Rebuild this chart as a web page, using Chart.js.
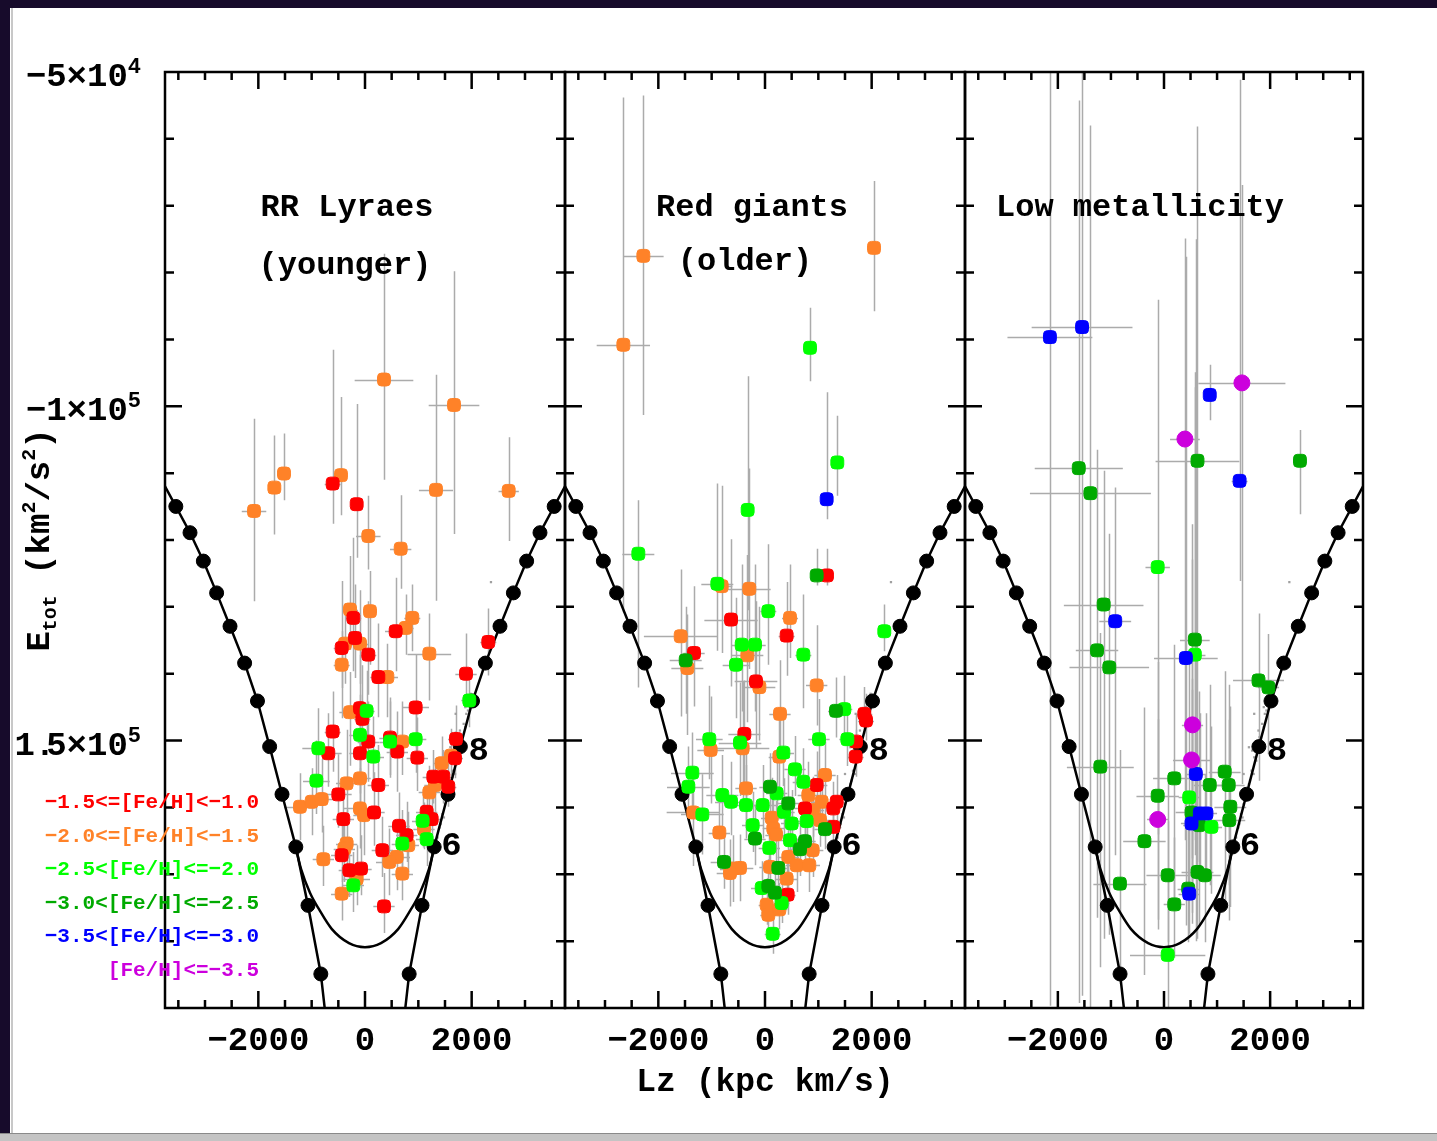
<!DOCTYPE html>
<html>
<head>
<meta charset="utf-8">
<title>Etot vs Lz</title>
<script src="https://cdn.jsdelivr.net/npm/chart.js@4.4.1/dist/chart.umd.min.js"></script>
<style>
html,body{margin:0;padding:0;background:#ffffff;}
#page{position:relative;width:1437px;height:1141px;overflow:hidden;background:#ffffff;}
#page canvas{position:absolute;left:0;top:0;}
#edgeTop{position:absolute;left:0;top:0;width:1437px;height:8px;background:#170b2b;}
#edgeLeft{position:absolute;left:0;top:0;width:10px;height:1141px;background:#170b2b;}
#edgeLine{position:absolute;left:11px;top:8px;width:2px;height:1133px;background:#c8c8c8;}
#edgeBottom{position:absolute;left:0;top:1133px;width:1437px;height:8px;background:#c4c4c4;border-top:1px solid #8a8a8a;}
</style>
</head>
<body>
<div id="page">
<div id="edgeTop"></div><div id="edgeLeft"></div><div id="edgeLine"></div><div id="edgeBottom"></div>
<canvas id="c1" width="1437" height="1141"></canvas>
<canvas id="c2" width="1437" height="1141"></canvas>
<canvas id="c3" width="1437" height="1141"></canvas>
</div>
<script>
// ================= DATA =================
const xTickValues = [-2000, 0, 2000];
const xTickLabels = ['\u22122000', '0', '2000'];
const yTickValues = [-50000, -100000, -150000];
const yTickMantissa = ['\u22125\u00d710', '\u22121\u00d710', '1.5\u00d710'];
const yTickExponent = ['4', '5', '5'];
const panelTitles = [['RR Lyraes', '(younger)'], ['Red giants', '(older)'], ['Low metallicity']];
const legendLabels = ['\u22121.5<=[Fe/H]<\u22121.0', '\u22122.0<=[Fe/H]<\u22121.5', '\u22122.5<[Fe/H]<=\u22122.0',
                      '\u22123.0<[Fe/H]<=\u22122.5', '\u22123.5<[Fe/H]<=\u22123.0', '[Fe/H]<=\u22123.5'];
const legendColors = ['#ff0000', '#ff8228', '#00ff00', '#00aa00', '#0000ff', '#cc00dd'];

// Outer (dotted) boundary curve: Lz, Etot, dot flag
const vCurveLz  = [-3800, -3547, -3281, -3031, -2782, -2531, -2257, -2016, -1788, -1556, -1297, -1069, -828, -614,
                    614, 828, 1069, 1297, 1556, 1788, 2016, 2257, 2531, 2782, 3031, 3281, 3547, 3800];
const vCurveE   = [-111240, -114980, -118910, -123155, -127910, -132905, -138410, -144080, -150905, -158030, -165905, -174650, -184910, -200000,
                   -200000, -184910, -174650, -165905, -158030, -150905, -144080, -138410, -132905, -127910, -123155, -118910, -114980, -111240];
const vCurveDot = [0, 1, 1, 1, 1, 1, 1, 1, 1, 1, 1, 1, 1, 0, 0, 1, 1, 1, 1, 1, 1, 1, 1, 1, 1, 1, 1, 0];
// Inner smooth curve
const innerLz = [-1300, -1200, -1030, -850, -625, -300, 0, 300, 625, 850, 1030, 1200, 1300];
const innerE  = [-165905, -169200, -172800, -175400, -178160, -180300, -180900, -180300, -178160, -175400, -172800, -169200, -165905];
// grey model band
const bandLz = [1980, 1950, 1900, 1930, 1850, 1880, 1800, 1760, 1820, 1700, 1740, 1650, 1690, 1600, 1560, 1620, 1500, 1540, 1450, 1480, 1400, 1360, 1420, 1700, 1600, 2362, 1500, 1880, 1780, 1660];
const bandE  = [-143000, -144500, -146000, -145500, -147500, -148000, -149500, -151000, -150000, -152500, -153000, -154500, -155000, -156500, -157500, -156000, -159500, -159000, -161000, -161500, -163000, -164500, -162500, -146000, -151000, -126300, -155000, -145000, -148500, -151500];
const curveTags = ['8', '6'];
const curveTagLz = [2130, 1620];
const curveTagE = [-151700, -165900];

// points: [Lz, Etot, xErr, eUp, eDown]
const rrRed = [
 [-606,-111560,150,20000,6000],[-156,-114650,120,15000,8000],[-219,-131650,150,12000,8000],[575,-133650,200,8000,6000],
 [-437,-136150,150,10000,6000],[-187,-134650,150,8000,6000],[62,-137150,150,8000,6000],[2312,-135250,150,5000,5000],
 [250,-140500,150,8000,6000],[1894,-140000,200,6000,5000],[-94,-145150,150,8000,6000],[-50,-146750,150,8000,6000],
 [950,-145050,250,8000,6000],[-606,-148650,150,6000,6000],[62,-150150,200,6000,6000],[469,-149550,200,6000,6000],
 [-688,-151900,250,6000,5000],[-94,-151900,200,6000,6000],[606,-151650,200,6000,6000],[981,-152550,200,6000,5000],
 [1706,-149750,150,5000,4000],[1687,-152650,150,4000,3000],[250,-156650,200,6000,5000],[1281,-155400,200,4000,4000],
 [1469,-155400,200,4000,4000],[1562,-156900,150,4000,3000],[-500,-158050,250,6000,5000],[169,-160750,200,6000,5000],
 [-406,-161750,200,6000,5000],[1156,-160650,200,4000,4000],[1250,-161750,200,4000,4000],[637,-162750,200,5000,4000],
 [781,-164150,200,5000,4000],[-437,-167150,200,5000,4000],[325,-166400,200,5000,4000],[-294,-169400,200,5000,4000],
 [-75,-169150,200,5000,4000],[356,-174800,200,5000,4000]
];
const rrOrange = [
 [356,-96000,550,18800,15000],[1669,-99800,475,20000,19300],[-1519,-110060,130,6000,4000],[-450,-110300,100,11700,6000],
 [-2081,-115655,230,13800,13500],[-1700,-112160,120,7800,7000],[62,-119400,230,6000,5000],[669,-121300,200,8000,6000],
 [1331,-112500,320,17200,16600],[2694,-112650,190,8000,7500],[-281,-130400,150,8000,6000],[94,-130650,130,6000,8000],
 [762,-133150,150,5000,4000],[887,-131650,150,5000,5000],[-375,-135500,150,6000,6000],[-94,-135500,150,8000,6000],
 [-437,-138650,150,5000,8000],[1206,-137000,410,6000,7000],[419,-140500,200,5000,6000],[-281,-145750,200,6000,8000],
 [700,-150150,200,6000,5000],[1612,-152250,150,4000,3000],[1437,-153400,150,4000,3000],[-344,-156400,200,8000,6000],
 [-94,-155650,200,6000,6000],[1312,-156650,200,4000,4000],[1206,-157750,200,4000,4000],[-1219,-159900,300,5000,5000],
 [-1000,-159150,300,5000,5000],[-812,-158750,300,6000,5000],[-94,-160150,300,6000,6000],[-19,-161150,200,6000,6000],
 [1106,-163250,200,4000,3000],[812,-165650,200,5000,4000],[-344,-165400,200,5000,5000],[-387,-166150,200,5000,5000],
 [594,-167400,250,5000,5000],[456,-168150,250,5000,5000],[-781,-167750,200,5000,4000],[-156,-170650,250,5000,4000],
 [700,-169900,200,5000,4000],[-437,-172900,200,4000,4000]
];
const rrGreen = [
 [1956,-144000,150,5000,4000],[31,-145550,150,6000,5000],[-94,-149150,200,6000,6000],[469,-150150,200,6000,5000],
 [950,-149800,200,5000,5000],[-875,-151150,300,6000,5000],[156,-152400,200,6000,5000],[-912,-156000,250,6000,5000],
 [1081,-162000,200,4000,4000],[1156,-164750,200,4000,4000],[700,-165400,200,5000,4000],[-219,-171650,200,5000,4000]
];

const rgRed = [
 [1162,-125300,80,4000,1500],[-637,-131900,500,12000,10000],[406,-134300,150,8000,6000],[-1331,-136900,200,10000,8000],
 [-169,-141150,400,12000,10000],[1862,-146000,150,4000,3000],[1894,-147000,150,4000,3000],[-387,-149000,300,8000,8000],
 [1706,-150150,150,4000,3000],[1700,-152400,150,4000,3000],[969,-156650,200,5000,4000],[750,-160150,200,5000,4000],
 [1344,-159150,150,4000,3000],[1281,-160150,150,4000,3000],[1281,-162900,150,4000,3000],[425,-173050,150,4000,3000]
];
const rgOrange = [
 [-2281,-77500,380,24000,23800],[-2656,-90800,500,37000,40000],[2044,-76300,60,10000,9500],[-812,-126900,200,15000,10000],
 [-294,-127300,400,18000,12000],[469,-131650,150,8000,6000],[-1581,-134400,690,10000,12000],[-331,-137250,300,15000,10000],
 [-1456,-139150,300,8000,10000],[-106,-142000,300,12000,8000],[969,-141750,200,9000,6000],[281,-146000,200,8000,6000],
 [-1019,-151400,250,8000,8000],[-419,-151150,500,10000,8000],[269,-152400,200,6000,6000],[1125,-155150,200,5000,4000],
 [-356,-157150,200,8000,6000],[812,-158150,200,5000,4000],[1062,-159150,200,5000,4000],[906,-160400,200,5000,4000],
 [-1344,-160750,500,6000,8000],[125,-161550,200,6000,5000],[1031,-161900,200,5000,4000],[156,-163150,200,5000,4000],
 [206,-164050,200,5000,4000],[-856,-163750,200,5000,4000],[894,-166400,200,4000,4000],[437,-167400,200,4000,4000],
 [594,-168650,200,4000,4000],[831,-168650,200,4000,4000],[-594,-169150,250,5000,5000],[-469,-169050,250,5000,5000],
 [-656,-169800,250,5000,5000],[94,-168900,200,4000,4000],[406,-170650,200,4000,4000],[31,-174550,150,4000,3000],
 [62,-176050,150,4000,3000],[269,-175250,150,4000,3000]
];
const rgGreen = [
 [844,-91250,130,6000,5000],[1356,-108400,80,7000,5000],[-325,-115500,100,20000,15000],[-2375,-122050,300,8000,20000],
 [-894,-126550,300,15000,10000],[62,-130650,150,10000,8000],[2237,-133650,100,4000,3000],[-437,-135650,200,12000,10000],
 [-187,-135650,200,12000,10000],[719,-137150,150,9000,8000],[-544,-138650,250,10000,8000],[1487,-145300,150,5000,4000],
 [-1044,-149800,250,8000,6000],[-469,-150300,400,9000,8000],[1012,-149800,200,6000,5000],[1544,-149800,150,5000,4000],
 [344,-151800,200,6000,5000],[562,-154300,200,5000,4000],[-1362,-154800,400,6000,5000],[-1437,-156900,400,6000,5000],
 [719,-156150,200,5000,4000],[219,-157900,200,5000,4000],[-800,-158150,300,6000,5000],[-637,-159150,300,6000,5000],
 [-356,-159650,250,6000,5000],[-44,-159650,250,6000,5000],[-1175,-161050,400,6000,6000],[356,-160650,200,5000,4000],
 [781,-162050,200,5000,4000],[-231,-162650,200,5000,4000],[500,-162400,200,5000,4000],[469,-164900,200,5000,4000],
 [81,-166050,200,5000,4000],[-62,-172050,200,4000,4000],[312,-174300,150,4000,3000],[144,-178900,150,3000,3000]
];
const rgDkGreen = [
 [969,-125300,80,4000,1500],[-1487,-138000,300,8000,8000],[1331,-145550,150,5000,4000],[94,-156900,200,5000,4000],
 [437,-159400,200,5000,4000],[1125,-163250,200,4000,3000],[-187,-164650,200,5000,4000],[750,-165050,200,4000,4000],
 [656,-166250,200,4000,4000],[-769,-168150,250,5000,4000],[250,-169050,200,4000,4000],[62,-171750,200,4000,3000],
 [187,-172750,200,4000,3000]
];
const rgBlue = [[1156,-113900,80,16000,3000]];

const lmDkGreen = [
 [631,-108150,790,50000,60000],[2562,-108150,80,4600,8000],[-1606,-109250,830,55000,80000],[-1387,-113000,1140,55000,80000],
 [-1137,-129650,750,20000,50000],[581,-134900,280,40000,30000],[-1262,-136500,400,30000,40000],[-1031,-139050,750,20000,40000],
 [1781,-141000,480,10000,15000],[1968,-142050,200,8000,10000],[-1200,-153900,630,20000,30000],[1144,-154650,300,15000,20000],
 [194,-155650,400,20000,20000],[862,-156650,300,15000,15000],[1219,-156650,300,15000,15000],[-119,-158250,400,20000,20000],
 [1250,-159900,300,15000,15000],[519,-160750,300,20000,15000],[662,-162650,300,20000,15000],[1231,-161900,300,15000,15000],
 [-369,-165050,400,20000,20000],[69,-170150,400,15000,10000],[631,-169650,300,15000,10000],[769,-170150,300,15000,10000],
 [-831,-171400,500,20000,15000],[456,-172150,200,10000,8000],[194,-174500,200,10000,8000]
];
const lmGreen = [
 [-119,-124050,230,40000,40000],[581,-137150,200,40000,30000],[475,-158500,200,20000,15000],[894,-162900,200,15000,10000],
 [69,-182050,710,20000,10000]
];
const lmBlue = [
 [-2150,-89650,800,40000,100000],[-1544,-88150,950,40000,100000],[862,-98300,100,4500,3800],[1425,-111150,150,60000,15000],
 [-919,-132150,300,20000,35000],[412,-137650,600,60000,40000],[600,-155000,200,80000,25000],[675,-160900,200,15000,10000],
 [800,-160900,200,15000,10000],[519,-162400,200,20000,15000],[475,-172900,200,10000,6000]
];
const lmMagenta = [
 [1468,-96500,820,29600,60000],[394,-104900,280,30000,60000],[537,-147650,200,30000,20000],[519,-152900,350,30000,20000],
 [-119,-161800,200,15000,15000]
];

// ================= RENDERING =================
const FONT = '"Liberation Mono", "DejaVu Sans Mono", monospace';
const W = 1437, H = 1141, PLOT_TOP = 72, PLOT_BOTTOM = 1008;
const COL = {red:'#ff0000', orange:'#ff8228', green:'#00ff00', dkgreen:'#00aa00', blue:'#0000ff', magenta:'#cc00dd'};

function toPts(arr) { return arr.map(p => ({x: p[0], y: p[1], ex: p[2], eu: p[3], ed: p[4]})); }
function pointSet(arr, color, style, r) {
  return {data: toPts(arr), showLine: false, pointStyle: style || 'rectRounded', pointRadius: r || 7.5,
          pointBackgroundColor: color, pointBorderColor: color, pointBorderWidth: 1, errorBars: true, order: 1};
}
function curveSets() {
  return [
    {data: vCurveLz.map((x, i) => ({x: x, y: vCurveE[i]})), showLine: true, borderColor: '#000', borderWidth: 2.5,
     pointStyle: 'circle', pointRadius: c => vCurveDot[c.dataIndex] ? 7 : 0, pointBackgroundColor: '#000',
     pointBorderColor: '#000', pointBorderWidth: 1, order: 5},
    {data: innerLz.map((x, i) => ({x: x, y: innerE[i]})), showLine: true, borderColor: '#000', borderWidth: 2.5,
     pointRadius: 0, cubicInterpolationMode: 'monotone', order: 5},
    {data: bandLz.map((x, i) => ({x: x, y: bandE[i]})), showLine: false, pointRadius: 1.6, pointStyle: 'rect',
     pointBackgroundColor: '#a0a0a0', pointBorderWidth: 0, order: 6}
  ];
}

const errorBarPlugin = {
  id: 'errbars',
  beforeDatasetsDraw(chart) {
    const ctx = chart.ctx, a = chart.chartArea, xs = chart.scales.x, ys = chart.scales.y;
    ctx.save();
    ctx.beginPath(); ctx.rect(a.left, a.top, a.right - a.left, a.bottom - a.top); ctx.clip();
    ctx.strokeStyle = '#ababab'; ctx.lineWidth = 1.5;
    chart.data.datasets.forEach(ds => {
      if (!ds.errorBars) return;
      ds.data.forEach(p => {
        const px = Math.round(xs.getPixelForValue(p.x)) + 0.5, py = Math.round(ys.getPixelForValue(p.y)) + 0.5;
        ctx.beginPath();
        ctx.moveTo(px, ys.getPixelForValue(p.y + p.eu)); ctx.lineTo(px, ys.getPixelForValue(p.y - p.ed));
        ctx.moveTo(xs.getPixelForValue(p.x - p.ex), py); ctx.lineTo(xs.getPixelForValue(p.x + p.ex), py);
        ctx.stroke();
      });
    });
    ctx.restore();
  }
};

function drawRuns(ctx, runs, x, y) {
  let cx = x;
  runs.forEach(r => {
    ctx.font = r.font;
    ctx.fillText(r.t, cx + (r.dx || 0), y + (r.dy || 0));
    cx += ctx.measureText(r.t).width + (r.adv || 0);
  });
  return cx;
}
function runsWidth(ctx, runs) {
  let w = 0;
  runs.forEach(r => { ctx.font = r.font; w += ctx.measureText(r.t).width + (r.adv || 0); });
  return w;
}

function framePlugin(idx, titleSpec) {
  return {
    id: 'frame' + idx,
    afterDraw(chart) {
      const ctx = chart.ctx, a = chart.chartArea, xs = chart.scales.x, ys = chart.scales.y;
      ctx.save();
      // curve tags
      ctx.fillStyle = '#000'; ctx.font = 'bold 34px ' + FONT; ctx.textAlign = 'center'; ctx.textBaseline = 'middle';
      curveTags.forEach((t, i) => ctx.fillText(t, xs.getPixelForValue(curveTagLz[i]), ys.getPixelForValue(curveTagE[i])));
      // frame
      ctx.strokeStyle = '#000'; ctx.lineWidth = 2.5;
      ctx.strokeRect(a.left, a.top, a.right - a.left, a.bottom - a.top);
      ctx.beginPath();
      for (let v = -3500; v <= 3500; v += 500) {
        const px = xs.getPixelForValue(v), len = (v % 2000 === 0) ? 17 : 8;
        ctx.moveTo(px, a.bottom); ctx.lineTo(px, a.bottom - len);
        ctx.moveTo(px, a.top); ctx.lineTo(px, a.top + len);
      }
      for (let v = -180000; v <= -60000; v += 10000) {
        const py = ys.getPixelForValue(v), len = (v % 50000 === 0) ? 17 : 9;
        ctx.moveTo(a.left, py); ctx.lineTo(a.left + len, py);
        ctx.moveTo(a.right, py); ctx.lineTo(a.right - len, py);
      }
      ctx.stroke();
      // x tick labels
      ctx.textBaseline = 'alphabetic'; ctx.textAlign = 'center'; ctx.font = 'bold 34px ' + FONT;
      xTickValues.forEach((v, i) => ctx.fillText(xTickLabels[i], xs.getPixelForValue(v), 1050));
      // titles
      ctx.font = 'bold 32px ' + FONT;
      titleSpec.forEach(t => ctx.fillText(t.text, t.cx, t.base));
      if (idx === 0) {
        // y tick labels
        ctx.textAlign = 'left';
        yTickValues.forEach((v, i) => {
          const m = yTickMantissa[i];
          const runs = m.indexOf('.') >= 0
            ? [{t: m.slice(0, 2), font: 'bold 34px ' + FONT, adv: -9}, {t: m.slice(2), font: 'bold 34px ' + FONT},
               {t: yTickExponent[i], font: 'bold 22px ' + FONT, dy: -13}]
            : [{t: m, font: 'bold 34px ' + FONT}, {t: yTickExponent[i], font: 'bold 22px ' + FONT, dy: -13}];
          const w = runsWidth(ctx, runs);
          drawRuns(ctx, runs, 141 - w, ys.getPixelForValue(v) + 14);
        });
        // legend
        ctx.textAlign = 'right'; ctx.font = 'bold 21px ' + FONT;
        legendLabels.forEach((t, i) => { ctx.fillStyle = legendColors[i]; ctx.fillText(t, 259, 808 + i * 33.5); });
        ctx.fillStyle = '#000';
        // x axis title
        ctx.textAlign = 'center'; ctx.font = 'bold 33px ' + FONT;
        ctx.fillText('Lz (kpc km/s)', 765, 1091);
        // y axis title (rotated)
        ctx.save();
        ctx.translate(49, 540); ctx.rotate(-Math.PI / 2); ctx.textAlign = 'left';
        const yr = [{t: 'E', font: 'bold 34px ' + FONT}, {t: 'tot', font: 'bold 20px ' + FONT, dy: 7},
                    {t: ' (km', font: 'bold 34px ' + FONT}, {t: '2', font: 'bold 20px ' + FONT, dy: -14},
                    {t: '/s', font: 'bold 34px ' + FONT}, {t: '2', font: 'bold 20px ' + FONT, dy: -14},
                    {t: ')', font: 'bold 34px ' + FONT}];
        drawRuns(ctx, yr, -runsWidth(ctx, yr) / 2, 0);
        ctx.restore();
      }
      ctx.restore();
    }
  };
}

const panels = [
  {id: 'c1', left: 165, right: 565, sets: [pointSet(rrGreen, COL.green), pointSet(rrRed, COL.red), pointSet(rrOrange, COL.orange)],
   titles: [{text: panelTitles[0][0], cx: 347, base: 216}, {text: panelTitles[0][1], cx: 345, base: 274}]},
  {id: 'c2', left: 565, right: 965, sets: [pointSet(rgBlue, COL.blue), pointSet(rgDkGreen, COL.dkgreen), pointSet(rgGreen, COL.green),
                                          pointSet(rgRed, COL.red), pointSet(rgOrange, COL.orange)],
   titles: [{text: panelTitles[1][0], cx: 752, base: 216}, {text: panelTitles[1][1], cx: 745, base: 270}]},
  {id: 'c3', left: 965, right: 1363, sets: [pointSet(lmMagenta, COL.magenta, 'circle', 8), pointSet(lmBlue, COL.blue),
                                           pointSet(lmGreen, COL.green), pointSet(lmDkGreen, COL.dkgreen)],
   titles: [{text: panelTitles[2][0], cx: 1140, base: 216}]}
];

panels.forEach((p, idx) => {
  new Chart(document.getElementById(p.id).getContext('2d'), {
    type: 'scatter',
    data: {datasets: p.sets.concat(curveSets())},
    options: {
      responsive: false, animation: false, devicePixelRatio: 1, events: [],
      layout: {padding: {left: p.left, right: W - p.right, top: PLOT_TOP, bottom: H - PLOT_BOTTOM}},
      plugins: {legend: {display: false}, tooltip: {enabled: false}},
      scales: {
        x: {type: 'linear', min: -3750, max: 3750, display: false},
        y: {type: 'linear', min: -190000, max: -50000, display: false}
      }
    },
    plugins: [errorBarPlugin, framePlugin(idx, p.titles)]
  });
});
</script>
</body>
</html>
